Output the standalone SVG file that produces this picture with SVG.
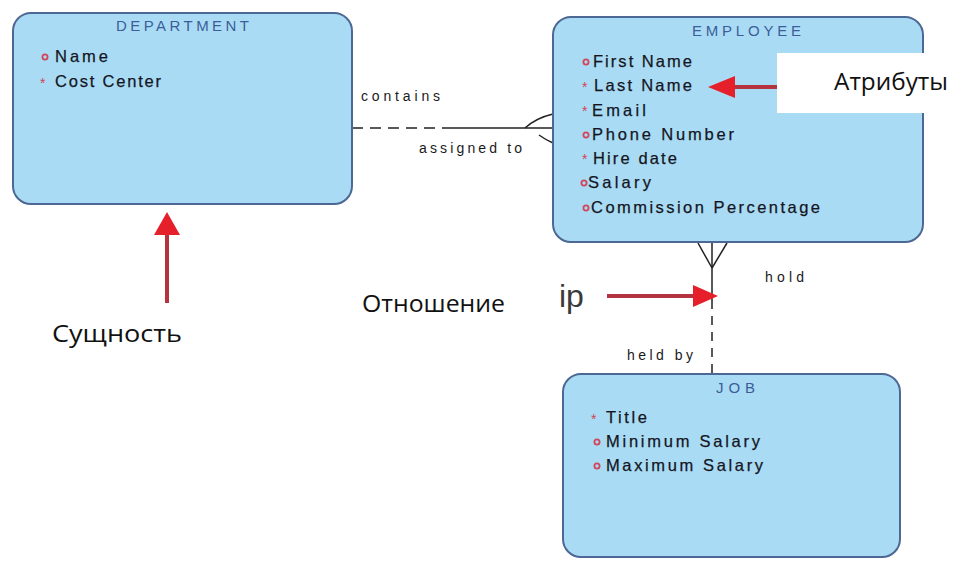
<svg xmlns="http://www.w3.org/2000/svg" width="954" height="561" viewBox="0 0 954 561">
<defs>
<style>
.ent{fill:#a9dcf4;stroke:#4d6894;stroke-width:2}
.ttl{font-family:"Liberation Sans",Arial,sans-serif;font-size:15px;fill:#3d5c99}
.att{font-family:"Liberation Sans",Arial,sans-serif;font-size:16.5px;fill:#15151f;stroke:#15151f;stroke-width:0.25}
.mk{fill:none;stroke:#d2455a;stroke-width:1.8}
.ast{font-family:"Liberation Sans",Arial,sans-serif;font-size:14px;fill:#d2455a}
.lbl{font-family:"Liberation Sans",Arial,sans-serif;font-size:14px;fill:#1a1a1a}
.ln{stroke:#222;stroke-width:1.5;fill:none}
.dash{stroke:#222;stroke-width:1.5;fill:none;stroke-dasharray:11 7}
.ru{font-family:"Open Sans","Noto Sans",sans-serif;font-size:23px;fill:#111}
.shaft{stroke:#b5333f;stroke-width:4;fill:none}
.head{fill:#e5202b}
.wb{fill:#ffffff}
</style>
</defs>
<rect x="0" y="0" width="954" height="561" fill="#ffffff"/>

<g id="connectors">
<line class="dash" x1="352" y1="128" x2="442" y2="128"/>
<line class="ln" x1="442" y1="128" x2="553" y2="128"/>
<path class="ln" d="M525,128 Q536,118 553,114"/>
<path class="ln" d="M539,135 Q546,140 553,143"/>
<line class="ln" x1="712" y1="242" x2="712" y2="300"/>
<line class="dash" x1="712" y1="300" x2="712" y2="374" style="stroke-dasharray:9 7"/>
<line class="ln" x1="698" y1="243" x2="712" y2="268"/>
<line class="ln" x1="727" y1="243" x2="712" y2="268"/>
<text class="lbl" x="361" y="101" textLength="79" lengthAdjust="spacing">contains</text>
<text class="lbl" x="419" y="153" textLength="103" lengthAdjust="spacing">assigned to</text>
<text class="lbl" x="765" y="282" textLength="39" lengthAdjust="spacing">hold</text>
<text class="lbl" x="627" y="360" textLength="66" lengthAdjust="spacing">held by</text>
</g>

<g id="department">
<rect class="ent" x="13" y="13" width="339" height="191" rx="18"/>
<text class="ttl" x="116" y="31" textLength="133" lengthAdjust="spacing">DEPARTMENT</text>
<circle class="mk" cx="45" cy="57" r="2.6"/>
<text class="att" x="55" y="62" textLength="53" lengthAdjust="spacing">Name</text>
<text class="ast" x="40" y="88">*</text>
<text class="att" x="55" y="87" textLength="106" lengthAdjust="spacing">Cost Center</text>
</g>

<g id="employee">
<rect class="ent" x="553" y="17" width="370" height="225" rx="18"/>
<text class="ttl" x="692" y="36" textLength="109" lengthAdjust="spacing">EMPLOYEE</text>
<circle class="mk" cx="586" cy="62" r="2.6"/>
<text class="att" x="593" y="67" textLength="99" lengthAdjust="spacing">First Name</text>
<text class="ast" x="582" y="92">*</text>
<text class="att" x="594" y="91" textLength="98" lengthAdjust="spacing">Last Name</text>
<text class="ast" x="582" y="116">*</text>
<text class="att" x="592" y="116" textLength="54" lengthAdjust="spacing">Email</text>
<circle class="mk" cx="586" cy="135" r="2.6"/>
<text class="att" x="592" y="140" textLength="142" lengthAdjust="spacing">Phone Number</text>
<text class="ast" x="582" y="164">*</text>
<text class="att" x="593" y="164" textLength="84" lengthAdjust="spacing">Hire date</text>
<circle class="mk" cx="584" cy="183" r="2.6"/>
<text class="att" x="588" y="188" textLength="63" lengthAdjust="spacing">Salary</text>
<circle class="mk" cx="586" cy="208" r="2.6"/>
<text class="att" x="591" y="213" textLength="229" lengthAdjust="spacing">Commission Percentage</text>
</g>

<g id="job">
<rect class="ent" x="563" y="374" width="337" height="183" rx="18"/>
<text class="ttl" x="716" y="393" textLength="39" lengthAdjust="spacing">JOB</text>
<text class="ast" x="591" y="424">*</text>
<text class="att" x="606" y="423" textLength="41" lengthAdjust="spacing">Title</text>
<circle class="mk" cx="597" cy="442" r="2.6"/>
<text class="att" x="606" y="447" textLength="154" lengthAdjust="spacing">Minimum Salary</text>
<circle class="mk" cx="597" cy="466" r="2.6"/>
<text class="att" x="606" y="471" textLength="157" lengthAdjust="spacing">Maximum Salary</text>
</g>

<g id="annotation-entity">
<line class="shaft" x1="167" y1="232" x2="167" y2="304"/>
<polygon class="head" points="167,212 180,235 154,235"/>
<rect class="wb" x="0" y="303" width="250" height="58"/>
<text class="ru" x="52" y="342" textLength="130" lengthAdjust="spacingAndGlyphs">Сущность</text>
</g>

<g id="annotation-relationship">
<rect class="wb" x="300" y="272" width="260" height="62"/>
<text class="ru" x="362" y="312" textLength="143" lengthAdjust="spacingAndGlyphs">Отношение</text>
<text x="559" y="307" font-family="'Liberation Sans',Arial,sans-serif" font-size="32" fill="#3a3a3a">ip</text>
<line class="shaft" x1="607" y1="296" x2="695" y2="296"/>
<polygon class="head" points="718,296 693,285 693,307"/>
</g>

<g id="annotation-attributes">
<rect class="wb" x="777" y="53" width="177" height="60"/>
<text class="ru" x="834" y="90" textLength="114" lengthAdjust="spacingAndGlyphs">Атрибуты</text>
<line class="shaft" x1="733" y1="87" x2="777" y2="87"/>
<polygon class="head" points="708,87 735,76 735,98"/>
</g>
</svg>
